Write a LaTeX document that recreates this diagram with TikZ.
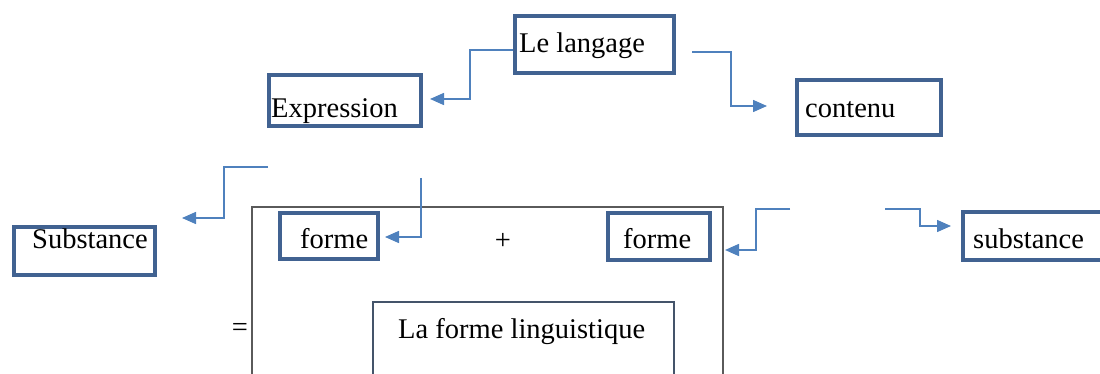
\documentclass[tikz,border=0pt]{standalone}
\usepackage{fontspec}
\setmainfont{Liberation Serif}
\usetikzlibrary{arrows.meta}
\definecolor{boxblue}{RGB}{65,98,145}
\definecolor{arrblue}{RGB}{79,129,189}
\definecolor{framegray}{RGB}{90,90,90}
\definecolor{lfbox}{RGB}{68,84,106}
\tikzset{
  box/.style={draw=boxblue, line width=4pt, inner sep=0pt, rectangle},
  lbl/.style={anchor=base west, inner sep=0pt, font=\fontsize{28.5}{34}\selectfont},
  sym/.style={inner sep=0pt, font=\fontsize{28.5}{34}\selectfont},
  arr/.style={draw=arrblue, line width=1.5pt, -{Triangle[length=14pt,width=12pt]}},
}
\begin{document}
\begin{tikzpicture}[x=1pt,y=-1pt]
\useasboundingbox (0,0) rectangle (1100,374);
% frames
\draw[framegray, line width=1.5pt] (252,385) -- (252,207) -- (723,207) -- (723,385);
\draw[lfbox, line width=2pt] (373,385) -- (373,302) -- (674,302) -- (674,385);
% boxes
\node[box, minimum width=159pt, minimum height=57pt] (langage) at (594.5,44.5) {};
\node[box, minimum width=152pt, minimum height=51pt] (expr) at (345,100.5) {};
\node[box, minimum width=144pt, minimum height=55pt] (contenu) at (869,107.5) {};
\node[box, minimum width=141pt, minimum height=48pt] (subst) at (84.5,251) {};
\node[box, minimum width=98pt, minimum height=46pt] (formeL) at (329,236) {};
\node[box, minimum width=102pt, minimum height=47pt] (formeR) at (659,236.5) {};
\node[box, minimum width=147pt, minimum height=48pt] (substR) at (1036.5,236) {};
% texts
\node[lbl] (tlangage) at (519,53) {Le langage};
\node[lbl] (texpr) at (271,118) {Expression};
\node[lbl] (tcontenu) at (805,118) {contenu};
\node[lbl] (tsubst) at (32,248) {Substance};
\node[lbl] (tformeL) at (300,248) {forme};
\node[lbl] (tformeR) at (623,248) {forme};
\node[lbl] (tsubstR) at (973,248) {substance};
\node[lbl] (tlf) at (398,338) {La forme linguistique};
\node[sym] (plus) at (503,241) {+};
\node[sym] (eq) at (240,330) {=};
% free ends
\coordinate (s2) at (692,52);
\coordinate (s3) at (268,167);
\coordinate (s4) at (421,178);
\coordinate (s5) at (790,209);
\coordinate (s6) at (885,209);
% connectors
\draw[arr] ([yshift=-5.5pt]langage.west) -| (470,99) -- ([xshift=7pt,yshift=1.5pt]expr.east);
\draw[arr] (s2) -| (731,106) -- ([xshift=-28pt,yshift=1.5pt]contenu.west);
\draw[arr] (s3) -| (224,218) -- ([xshift=25pt,yshift=33pt]subst.east);
\draw[arr] (s4) |- ([xshift=5pt,yshift=-1pt]formeL.east);
\draw[arr] (s5) -| (756,250) -- ([xshift=13pt,yshift=-13.5pt]formeR.east);
\draw[arr] (s6) -| (920,226) -- ([xshift=-10pt,yshift=10pt]substR.west);
\end{tikzpicture}
\end{document}
